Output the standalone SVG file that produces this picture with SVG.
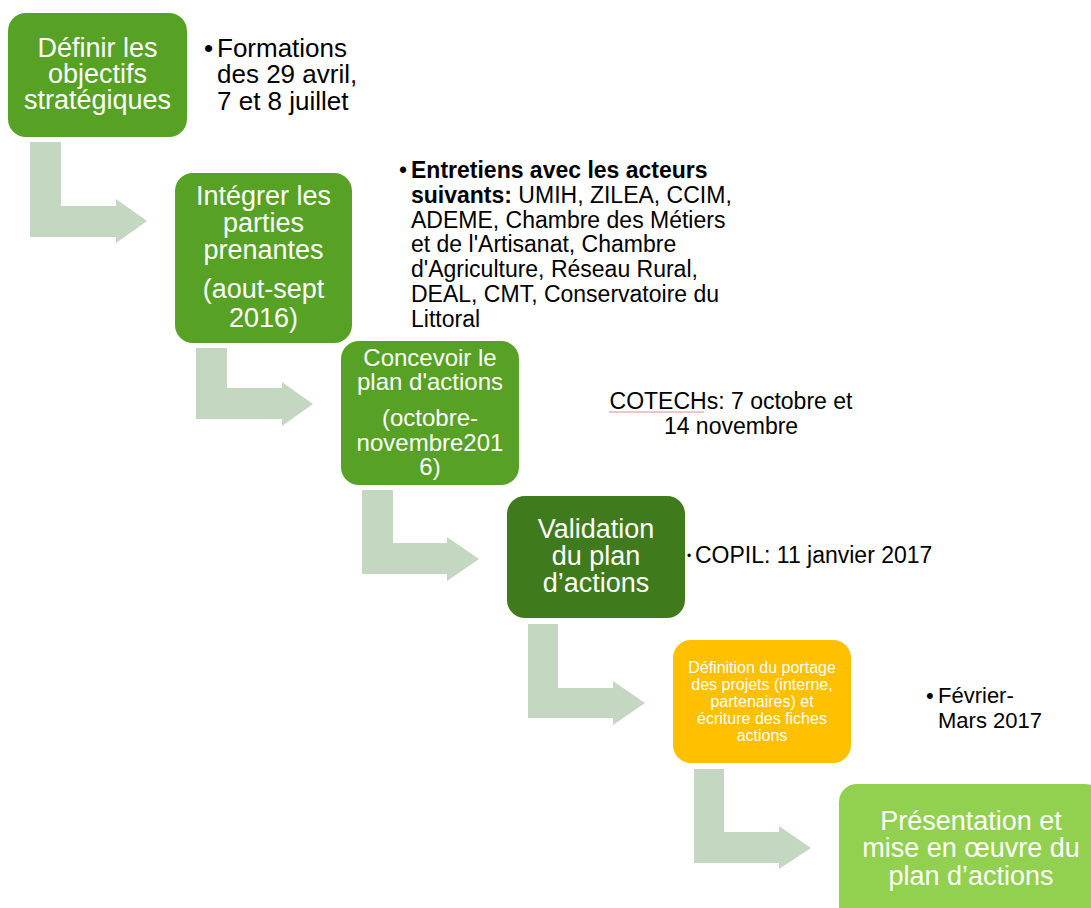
<svg xmlns="http://www.w3.org/2000/svg" width="1091" height="908" viewBox="0 0 1091 908">
<style>
.arrow{fill:#c4d7c1}
.box{stroke:none}
.wt{fill:#ffffff;font-family:"Liberation Sans",Arial,sans-serif;text-anchor:middle}
.bt{fill:#000000;font-family:"Liberation Sans",Arial,sans-serif}
</style>
<rect width="1091" height="908" fill="#ffffff"/>
<g id="connectors">
<path class="arrow" d="M30,142 H61 V206 H116 V199 L147,221 L116,243 V237 H30 Z"/>
<path class="arrow" d="M196,348 H227 V388 H282 V382 L313,404 L282,426 V419 H196 Z"/>
<path class="arrow" d="M362,490 H393 V543 H447 V537 L479,559 L447,581 V574 H362 Z"/>
<path class="arrow" d="M528,624 H558 V688 H613 V681 L645,703 L613,725 V718 H528 Z"/>
<path class="arrow" d="M694,769 H724 V832 H779 V826 L811,848 L779,869 V863 H694 Z"/>
</g>
<g id="node1">
<rect class="box" x="8" y="13" width="179" height="124" rx="18" fill="#57a225"/>
<text class="wt" font-size="27"><tspan x="97.5" y="57">Définir les</tspan><tspan x="97.5" y="83">objectifs</tspan><tspan x="97.5" y="109">stratégiques</tspan></text>
</g>
<g id="note1">
<text class="bt" font-size="26"><tspan x="204" y="57">•</tspan><tspan x="217" y="57">Formations</tspan><tspan x="217" y="83">des 29 avril,</tspan><tspan x="217" y="110">7 et 8 juillet</tspan></text>
</g>
<g id="node2">
<rect class="box" x="175" y="173" width="177" height="170" rx="18" fill="#57a225"/>
<text class="wt" font-size="27"><tspan x="263.5" y="205">Intégrer les</tspan><tspan x="263.5" y="232">parties</tspan><tspan x="263.5" y="259">prenantes</tspan><tspan x="263.5" y="298">(aout-sept</tspan><tspan x="263.5" y="327">2016)</tspan></text>
</g>
<g id="note2">
<text class="bt" font-size="23">
<tspan x="399" y="178">•</tspan><tspan x="411" y="178" font-weight="bold">Entretiens avec les acteurs</tspan>
<tspan x="411" y="202.8" font-weight="bold">suivants:</tspan><tspan> UMIH, ZILEA, CCIM,</tspan>
<tspan x="411" y="227.6">ADEME, Chambre des Métiers</tspan>
<tspan x="411" y="252.4">et de l'Artisanat, Chambre</tspan>
<tspan x="411" y="277.2">d'Agriculture, Réseau Rural,</tspan>
<tspan x="411" y="302">DEAL, CMT, Conservatoire du</tspan>
<tspan x="411" y="326.8">Littoral</tspan>
</text>
</g>
<g id="node3">
<rect class="box" x="341" y="341" width="178" height="144" rx="18" fill="#57a225"/>
<text class="wt" font-size="24"><tspan x="430" y="366">Concevoir le</tspan><tspan x="430" y="390">plan d'actions</tspan><tspan x="430" y="426">(octobre-</tspan><tspan x="430" y="451">novembre201</tspan><tspan x="430" y="475">6)</tspan></text>
</g>
<g id="note3">
<text class="bt" font-size="23" text-anchor="middle"><tspan x="731" y="409">COTECHs: 7 octobre et</tspan><tspan x="731" y="434">14 novembre</tspan></text>
<line x1="609" y1="412" x2="704" y2="412" stroke="#e08a8a" stroke-width="1"/>
</g>
<g id="node4">
<rect class="box" x="507" y="496" width="178" height="122" rx="18" fill="#3f7a1d"/>
<text class="wt" font-size="27"><tspan x="596" y="538">Validation</tspan><tspan x="596" y="565">du plan</tspan><tspan x="596" y="592">d’actions</tspan></text>
</g>
<g id="note4">
<text class="bt" font-size="12" fill="#666666" x="687" y="560">•</text>
<text class="bt" font-size="23" x="695" y="563">COPIL: 11 janvier 2017</text>
</g>
<g id="node5">
<rect class="box" x="673" y="640" width="178" height="123" rx="18" fill="#ffc000"/>
<text class="wt" font-size="16"><tspan x="762" y="673">Définition du portage</tspan><tspan x="762" y="690">des projets (interne,</tspan><tspan x="762" y="707">partenaires) et</tspan><tspan x="762" y="724">écriture des fiches</tspan><tspan x="762" y="741">actions</tspan></text>
</g>
<g id="note5">
<text class="bt" font-size="22"><tspan x="926" y="703">•</tspan><tspan x="938" y="703">Février-</tspan><tspan x="938" y="728">Mars 2017</tspan></text>
</g>
<g id="node6">
<rect class="box" x="839" y="784" width="264" height="140" rx="18" fill="#92d050"/>
<text class="wt" font-size="27"><tspan x="971" y="830">Présentation et</tspan><tspan x="971" y="857">mise en œuvre du</tspan><tspan x="971" y="885">plan d’actions</tspan></text>
</g>
</svg>
